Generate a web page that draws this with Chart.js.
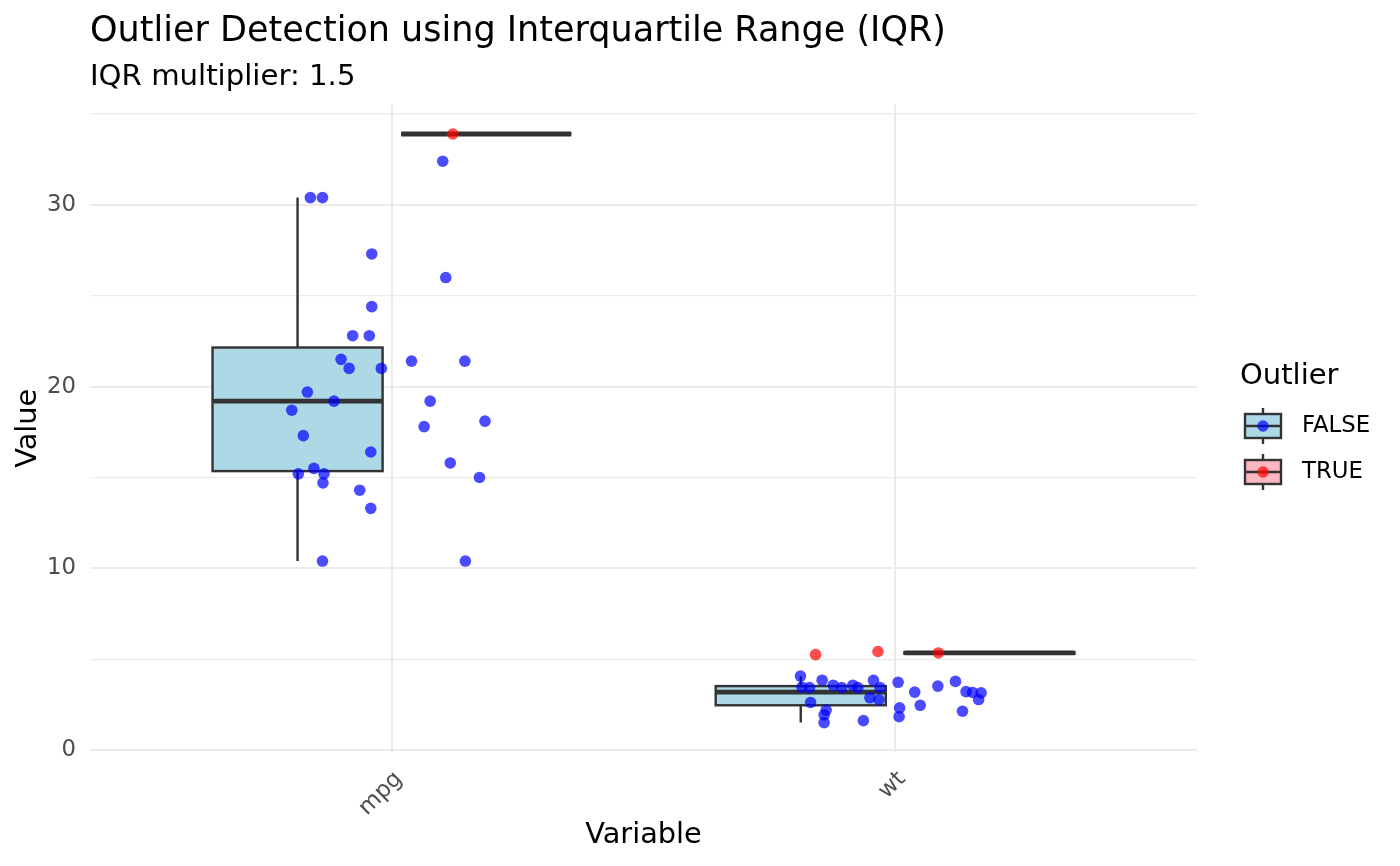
<!DOCTYPE html>
<html>
<head>
<meta charset="utf-8">
<title>Outlier Detection using Interquartile Range (IQR)</title>
<script src="https://cdn.jsdelivr.net/npm/chart.js@4.4.1/dist/chart.umd.min.js"></script>
<style>
  html, body { margin: 0; padding: 0; background: #ffffff; }
  #wrap { width: 1400px; height: 866px; }
</style>
</head>
<body>
<div id="wrap"><canvas id="iqrChart" width="1400" height="866"></canvas></div>
<script>
const variables = ["mpg", "wt"];
const outlierLevels = ["FALSE", "TRUE"];
const yTicks = [0, 5, 10, 15, 20, 25, 30, 35];

// jittered points (value, horizontal jitter around the category, outlier flag)
const mpgValues = [33.9, 32.4, 30.4, 30.4, 27.3, 26.0, 24.4, 22.8, 22.8, 21.5, 21.0, 21.0, 21.4, 21.4, 19.7, 19.2,
                   19.2, 18.7, 18.1, 17.8, 17.3, 16.4, 15.8, 15.5, 15.2, 15.2, 15.0, 14.7, 14.3, 13.3, 10.4, 10.4];
const mpgJitter = [0.121, 0.101, -0.162, -0.138, -0.040, 0.107, -0.040, -0.078, -0.045, -0.101, -0.085, -0.021, 0.039, 0.145, -0.168, -0.115,
                   0.076, -0.199, 0.185, 0.064, -0.176, -0.042, 0.116, -0.155, -0.186, -0.135, 0.174, -0.137, -0.064, -0.042, -0.138, 0.146];
const mpgOutlier = [true, false, false, false, false, false, false, false, false, false, false, false, false, false, false, false,
                    false, false, false, false, false, false, false, false, false, false, false, false, false, false, false, false];

const wtValues = [5.25, 5.424, 5.345, 4.07, 3.46, 3.44, 3.845, 3.57, 3.44, 3.57, 3.435, 3.84, 3.44, 2.62, 2.875, 2.77,
                  2.2, 1.935, 1.513, 1.62, 3.73, 3.19, 2.32, 1.835, 2.465, 3.52, 3.78, 3.215, 3.17, 3.15, 2.78, 2.14];
const wtJitter = [-0.158, -0.034, 0.086, -0.188, -0.185, -0.170, -0.145, -0.123, -0.106, -0.084, -0.074, -0.043, -0.030, -0.168, -0.050, -0.032,
                  -0.137, -0.141, -0.141, -0.063, 0.006, 0.039, 0.009, 0.008, 0.050, 0.085, 0.120, 0.141, 0.154, 0.171, 0.166, 0.134];
const wtOutlier = [true, true, true, false, false, false, false, false, false, false, false, false, false, false, false, false,
                   false, false, false, false, false, false, false, false, false, false, false, false, false, false, false, false];

// box statistics per variable / outlier group
const boxVariable = ["mpg", "mpg", "wt", "wt"];
const boxOutlier = ["FALSE", "TRUE", "FALSE", "TRUE"];
const boxLower = [10.4, 33.9, 1.513, 5.25];
const boxQ1 = [15.35, 33.9, 2.465, 5.2975];
const boxMedian = [19.2, 33.9, 3.19, 5.345];
const boxQ3 = [22.15, 33.9, 3.52, 5.3845];
const boxUpper = [30.4, 33.9, 4.07, 5.424];

const fillFor = { "FALSE": "#ADD8E6", "TRUE": "#FFB6C1" };
const dotFor = { "FALSE": "rgba(0,0,255,0.7)", "TRUE": "rgba(255,0,0,0.7)" };
const LINE = "#333333";

function collect(values, jitter, outlier, varName, wanted) {
  const base = variables.indexOf(varName) + 1;
  const pts = [];
  values.forEach((v, i) => {
    if (outlier[i] === wanted) pts.push({ x: base + jitter[i], y: v });
  });
  return pts;
}

const falsePts = collect(mpgValues, mpgJitter, mpgOutlier, "mpg", false)
  .concat(collect(wtValues, wtJitter, wtOutlier, "wt", false));
const truePts = collect(mpgValues, mpgJitter, mpgOutlier, "mpg", true)
  .concat(collect(wtValues, wtJitter, wtOutlier, "wt", true));

// boxes are dodged by outlier group
const DODGE = 0.1875, HALF = 0.169;
const boxPlugin = {
  id: "iqrBoxes",
  beforeDatasetsDraw(chart) {
    const { ctx, scales: { x, y } } = chart;
    ctx.save();
    ctx.strokeStyle = LINE;
    for (let i = 0; i < boxQ1.length; i++) {
      const c = variables.indexOf(boxVariable[i]) + 1 + (boxOutlier[i] === "TRUE" ? DODGE : -DODGE);
      const xl = x.getPixelForValue(c - HALF), xr = x.getPixelForValue(c + HALF), xc = x.getPixelForValue(c);
      const yLo = y.getPixelForValue(boxLower[i]), yQ1 = y.getPixelForValue(boxQ1[i]);
      const yMed = y.getPixelForValue(boxMedian[i]), yQ3 = y.getPixelForValue(boxQ3[i]);
      const yHi = y.getPixelForValue(boxUpper[i]);
      ctx.lineWidth = 2.4;
      ctx.beginPath();
      ctx.moveTo(xc, yLo); ctx.lineTo(xc, yQ1);
      ctx.moveTo(xc, yQ3); ctx.lineTo(xc, yHi);
      ctx.stroke();
      ctx.fillStyle = fillFor[boxOutlier[i]];
      ctx.fillRect(xl, yQ3, xr - xl, yQ1 - yQ3);
      ctx.strokeRect(xl, yQ3, xr - xl, yQ1 - yQ3);
      ctx.lineWidth = 4.8;
      ctx.beginPath();
      ctx.moveTo(xl, yMed); ctx.lineTo(xr, yMed);
      ctx.stroke();
    }
    ctx.restore();
  }
};

const legendPlugin = {
  id: "outlierLegend",
  afterDraw(chart) {
    const ctx = chart.ctx;
    ctx.save();
    ctx.fillStyle = "#000000";
    ctx.textBaseline = "middle";
    ctx.textAlign = "left";
    ctx.font = "29px 'DejaVu Sans'";
    ctx.fillText("Outlier", 1240, 376);
    outlierLevels.forEach((lvl, i) => {
      const cy = 426 + i * 46;
      const kx = 1245, kw = 36;
      ctx.strokeStyle = LINE;
      ctx.lineWidth = 2.4;
      ctx.beginPath();
      ctx.moveTo(kx + kw / 2, cy - 18); ctx.lineTo(kx + kw / 2, cy + 18);
      ctx.stroke();
      ctx.fillStyle = fillFor[lvl];
      ctx.fillRect(kx, cy - 12, kw, 24);
      ctx.strokeRect(kx, cy - 12, kw, 24);
      ctx.beginPath();
      ctx.moveTo(kx, cy); ctx.lineTo(kx + kw, cy);
      ctx.stroke();
      ctx.fillStyle = dotFor[lvl];
      ctx.beginPath();
      ctx.arc(kx + kw / 2, cy, 5.7, 0, Math.PI * 2);
      ctx.fill();
      ctx.fillStyle = "#000000";
      ctx.font = "22.8px 'DejaVu Sans'";
      ctx.fillText(lvl, 1302, cy);
    });
    ctx.restore();
  }
};

Chart.defaults.font.family = "'DejaVu Sans', sans-serif";

new Chart(document.getElementById("iqrChart").getContext("2d"), {
  type: "scatter",
  plugins: [boxPlugin, legendPlugin],
  data: {
    datasets: [
      { label: "FALSE", data: falsePts, backgroundColor: dotFor["FALSE"], borderWidth: 0, pointRadius: 5.8, pointHoverRadius: 5.8 },
      { label: "TRUE", data: truePts, backgroundColor: dotFor["TRUE"], borderWidth: 0, pointRadius: 5.8, pointHoverRadius: 5.8 }
    ]
  },
  options: {
    responsive: false,
    animation: false,
    devicePixelRatio: 1,
    events: [],
    layout: { padding: { left: 0, right: 203, top: 0, bottom: 0 } },
    plugins: {
      legend: { display: false },
      tooltip: { enabled: false },
      title: {
        display: true,
        text: "Outlier Detection using Interquartile Range (IQR)",
        align: "start",
        fullSize: false,
        color: "#000000",
        font: { size: 35, weight: "normal" },
        padding: { top: 11, bottom: 0 }
      },
      subtitle: {
        display: true,
        text: "IQR multiplier: 1.5",
        align: "start",
        fullSize: false,
        color: "#000000",
        font: { size: 29.2, weight: "normal" },
        padding: { top: 6.9, bottom: 9.6 }
      }
    },
    scales: {
      x: {
        type: "linear",
        min: 0.4,
        max: 2.6,
        afterBuildTicks: (s) => { s.ticks = variables.map((v, i) => ({ value: i + 1 })); },
        afterFit: (s) => { s.height = 114; },
        border: { display: false },
        grid: { color: "#EBEBEB", lineWidth: 2, drawTicks: false },
        ticks: {
          autoSkip: false,
          minRotation: 45,
          maxRotation: 45,
          padding: 14,
          labelOffset: 7,
          color: "#4D4D4D",
          font: { size: 22.8 },
          callback: (v) => variables[Math.round(v) - 1]
        },
        title: { display: true, text: "Variable", color: "#000000", font: { size: 28.8 }, padding: { top: 0, bottom: 12.7 } }
      },
      y: {
        min: -0.106,
        max: 35.52,
        afterBuildTicks: (s) => { s.ticks = yTicks.map((v) => ({ value: v })); },
        afterFit: (s) => { s.width = 90; },
        border: { display: false },
        grid: {
          color: "#EBEBEB",
          lineWidth: (c) => (c.tick && c.tick.value % 10 === 0 ? 2 : 1.3),
          drawTicks: false
        },
        ticks: {
          padding: 14,
          color: "#4D4D4D",
          font: { size: 22.8 },
          callback: (v) => (v % 10 === 0 ? String(v) : "")
        },
        title: { display: true, text: "Value", color: "#000000", font: { size: 28.8 }, padding: { top: 11, bottom: 0 } }
      }
    }
  }
});
</script>
</body>
</html>
